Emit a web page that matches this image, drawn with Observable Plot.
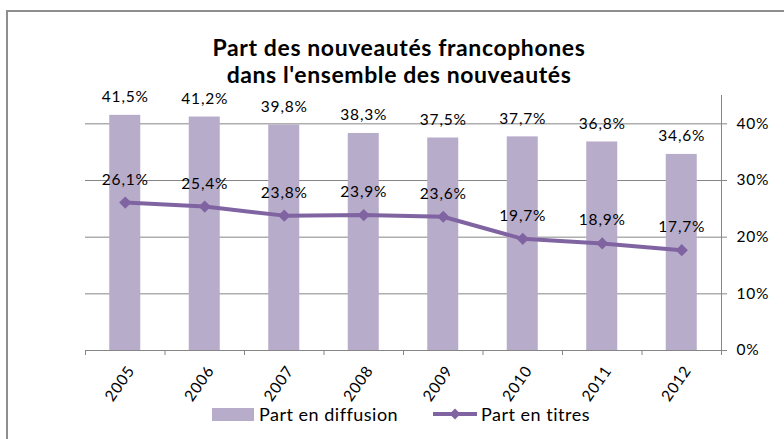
<!DOCTYPE html>
<html><head><meta charset="utf-8">
<script src="https://cdn.jsdelivr.net/npm/d3@7"></script>
<script src="https://cdn.jsdelivr.net/npm/@observablehq/plot@0.6"></script>
<style>
html,body{margin:0;padding:0;background:#fff;overflow:hidden;}
#wrap{position:relative;width:784px;height:439px;overflow:hidden;font-family:Lato,sans-serif;color:#000;}
#border{position:absolute;left:6px;top:10px;width:900px;height:900px;border:2px solid #8e8e8e;box-sizing:border-box;}
#title{position:absolute;left:8px;width:782px;top:34px;text-align:center;font-weight:bold;font-size:23px;letter-spacing:0.6px;line-height:27px;}
#chart{position:absolute;left:0;top:0;}
.lg{position:absolute;font-size:18px;letter-spacing:0.5px;line-height:20px;top:404px;white-space:nowrap;}
#chart text{letter-spacing:0.8px;}
</style></head>
<body><div id="wrap">
<div id="border"></div>
<div id="chart"></div>
<div id="title">Part des nouveautés francophones<br>dans l'ensemble des nouveautés</div>
<div class="lg" style="left:212px;top:408px;width:42px;height:13px;background:#b8accb;"></div>
<div class="lg" style="left:259px;">Part en diffusion</div>
<svg class="lg" style="left:433px;top:406px;" width="46" height="16"><line x1="0" y1="8" x2="44" y2="8" stroke="#8064a2" stroke-width="4"/><path d="M22,2.5L27.5,8L22,13.5L16.5,8Z" fill="#8064a2"/></svg>
<div class="lg" style="left:481px;">Part en titres</div>
</div>
<script>
const years = [2005, 2006, 2007, 2008, 2009, 2010, 2011, 2012];
const diffusion = [0.415, 0.412, 0.398, 0.383, 0.375, 0.377, 0.368, 0.346];
const titres = [0.261, 0.254, 0.238, 0.239, 0.236, 0.197, 0.189, 0.177];
const yTicks = [0, 0.1, 0.2, 0.3, 0.4];

const data = years.map((year, i) => ({year, diffusion: diffusion[i], titres: titres[i]}));
const bounds = d3.range(years.length + 1).map(i => years[0] - 0.5 + i);
const fr = d3.formatLocale({decimal: ",", thousands: " ", grouping: [3], currency: ["", " €"]});
const pct1 = fr.format(".1%");
const pct0 = fr.format(".0%");
const grey = "#868686";

const chart = Plot.plot({
  width: 784, height: 439,
  marginLeft: 85, marginRight: 63, marginTop: 95, marginBottom: 89,
  style: {fontFamily: "Lato, sans-serif", fontSize: "15.5px", background: "transparent", color: "#000"},
  x: {type: "linear", domain: [years[0] - 0.5, years[years.length - 1] + 0.5], axis: null, label: null},
  y: {domain: [0, 0.45], axis: null, label: null},
  marks: [
    Plot.ruleY(yTicks.slice(1), {stroke: grey, strokeWidth: 1}),
    Plot.rectY(data, {x1: d => d.year - 0.195, x2: d => d.year + 0.195, y: "diffusion", fill: "#b8accb"}),
    Plot.ruleY([0], {stroke: grey}),
    Plot.ruleX([years[years.length - 1] + 0.5], {y1: 0, y2: 0.45, stroke: grey}),
    Plot.axisX(bounds, {tickSize: 5, tickFormat: () => "", stroke: grey, label: null}),
    Plot.axisX(years, {tickSize: 0, tickRotate: -55, tickPadding: 17, dx: 6, tickFormat: "d", fontSize: 15.5, label: null}),
    Plot.axisY(yTicks, {anchor: "right", tickSize: 5, tickPadding: 10, tickFormat: pct0, stroke: grey, fontSize: 15.5, label: null}),
    Plot.line(data, {x: "year", y: "titres", stroke: "#8064a2", strokeWidth: 4}),
    Plot.dot(data, {x: "year", y: "titres", symbol: "diamond2", r: 5.5, fill: "#8064a2", stroke: null}),
    Plot.text(data, {x: "year", y: "diffusion", text: d => pct1(d.diffusion), dy: -18, fontSize: 15.5}),
    Plot.text(data, {x: "year", y: "titres", text: d => pct1(d.titres), dy: -23, fontSize: 15.5})
  ]
});
document.getElementById("chart").appendChild(chart);
</script>
</body></html>
